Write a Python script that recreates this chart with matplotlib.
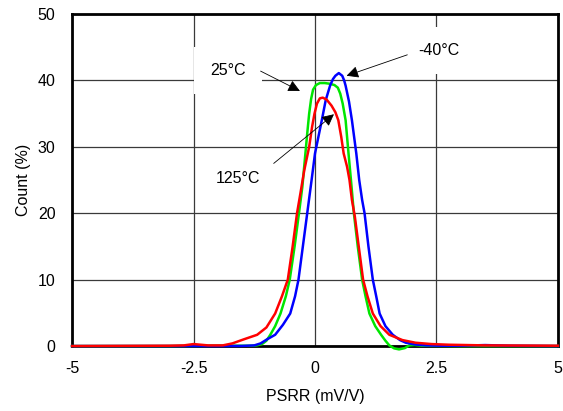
import matplotlib
matplotlib.use('Agg')
import matplotlib.pyplot as plt

plt.rcParams['font.family'] = ['Liberation Sans', 'DejaVu Sans']

# -40C curve (blue)
x_m40 = [-5, -3, -2, -1.5, -1.25, -1.12, -0.99, -0.82, -0.66, -0.51, -0.41, -0.34, -0.25, -0.16,
         -0.07, 0.0, 0.07, 0.14, 0.22, 0.31, 0.37, 0.42, 0.49, 0.56, 0.6, 0.63, 0.7, 0.76,
         0.85, 0.91, 0.97, 1.02, 1.1, 1.19, 1.26, 1.33, 1.45, 1.6, 1.75, 1.87, 2.05, 2.28,
         2.6, 3.0, 3.5, 4.0, 5]
y_m40 = [0, 0, 0, 0.02, 0.1, 0.4, 1.0, 1.7, 3.2, 4.9, 7.5, 10, 15, 20,
         25, 29, 31.5, 34, 37, 39.2, 40.2, 40.7, 41.1, 40.7, 40.0, 39.2, 36.8, 34,
         29, 25, 22, 20, 15, 10, 7.5, 4.9, 3.0, 1.7, 0.9, 0.5, 0.25, 0.1,
         0.05, 0.05, 0.15, 0.05, 0]

# 25C curve (green)
x_25 = [-5, -3, -2, -1.5, -1.3, -1.2, -1.09, -1.0, -0.92, -0.82, -0.71, -0.6, -0.52, -0.42,
        -0.33, -0.26, -0.21, -0.16, -0.12, -0.08, -0.04, 0.02, 0.1, 0.2, 0.3, 0.4, 0.47,
        0.52, 0.57, 0.63, 0.69, 0.74, 0.8, 0.88, 0.97, 1.04, 1.12, 1.24, 1.36, 1.45, 1.53,
        1.63, 1.73, 1.85, 1.94, 2.05, 2.2, 3, 5]
y_25 = [0, 0, 0.05, 0.05, 0.05, 0.1, 0.3, 0.8, 1.7, 3.0, 4.9, 7.5, 10, 15,
        20, 24, 28, 32, 35, 37.2, 38.6, 39.3, 39.6, 39.6, 39.5, 39.3, 38.9,
        38, 36.5, 34, 29, 25, 20, 15, 10, 7.5, 4.9, 3.0, 1.7, 0.8, 0.1,
        -0.35, -0.5, -0.3, 0.1, 0.15, 0.05, 0, 0]

# 125C curve (red)
x_125 = [-5, -3, -2.7, -2.5, -2.2, -1.9, -1.7, -1.47, -1.19, -1.0, -0.82, -0.68, -0.56, -0.46,
         -0.37, -0.3, -0.22, -0.12, -0.06, -0.01, 0.04, 0.1, 0.16, 0.24, 0.34, 0.42, 0.48,
         0.54, 0.59, 0.66, 0.71, 0.76, 0.82, 0.9, 0.99, 1.08, 1.19, 1.35, 1.53, 1.8, 2.07,
         2.4, 2.76, 3.5, 5]
y_125 = [0, 0.05, 0.1, 0.3, 0.1, 0.1, 0.4, 1.0, 1.7, 2.8, 4.9, 7.5, 10, 15,
         20, 23, 26.5, 30, 33, 35, 36.5, 37.3, 37.4, 37.1, 36.2, 35.2, 34,
         31.5, 29, 27, 25, 22, 19.5, 15, 10, 7.5, 4.9, 3.0, 1.7, 0.9, 0.5,
         0.3, 0.2, 0.1, 0.05]

x_ticks = [-5, -2.5, 0, 2.5, 5]
x_tick_labels = ['-5', '-2.5', '0', '2.5', '5']
y_ticks = [0, 10, 20, 30, 40, 50]

fig = plt.figure(figsize=(5.63, 4.11), dpi=100)
ax = fig.add_axes([0.128, 0.158, 0.863, 0.808])

# green dips a bit below zero in the original, so don't clip
ax.plot(x_25, y_25, color='#00e600', lw=1.8, zorder=3, clip_on=False)
ax.plot(x_m40, y_m40, color='#0000ff', lw=1.8, zorder=4, clip_on=False)
ax.plot(x_125, y_125, color='#ff0000', lw=1.8, zorder=5, clip_on=False)

ax.set_xlim(-5, 5)
ax.set_ylim(0, 50)
ax.set_xticks(x_ticks)
ax.set_xticklabels(x_tick_labels)
ax.set_yticks(y_ticks)
ax.tick_params(length=0, labelsize=11.5, pad=11)
ax.tick_params(axis='y', pad=12)
ax.grid(True, color='#3a3a3a', lw=0.9)
ax.set_axisbelow(True)
for s in ax.spines.values():
    s.set_linewidth(2)
    s.set_color('black')

ax.set_xlabel('PSRR (mV/V)', fontsize=11.5, labelpad=9)
ax.set_ylabel('Count (%)', fontsize=11.5, labelpad=5)

box = dict(boxstyle='square,pad=1.0', fc='white', ec='none')
ax.text(2.55, 44.5, '-40°C', fontsize=11.5, ha='center', va='center', bbox=box, zorder=2)
ax.text(-1.79, 41.5, '25°C', fontsize=11.5, ha='center', va='center', bbox=box, zorder=2)
ax.text(-1.58, 25.2, '125°C', fontsize=11.5, ha='center', va='center', bbox=box, zorder=2)

arrow = dict(arrowstyle='-|>', mutation_scale=18, lw=0.6, color='black',
             shrinkA=0, shrinkB=0)
ax.annotate('', xy=(0.65, 40.7), xytext=(1.90, 43.85), arrowprops=arrow, zorder=6)
ax.annotate('', xy=(-0.31, 38.4), xytext=(-1.12, 41.4), arrowprops=arrow, zorder=6)
ax.annotate('', xy=(0.39, 34.9), xytext=(-0.85, 27.5), arrowprops=arrow, zorder=6)

fig.savefig('out.png', dpi=100)
